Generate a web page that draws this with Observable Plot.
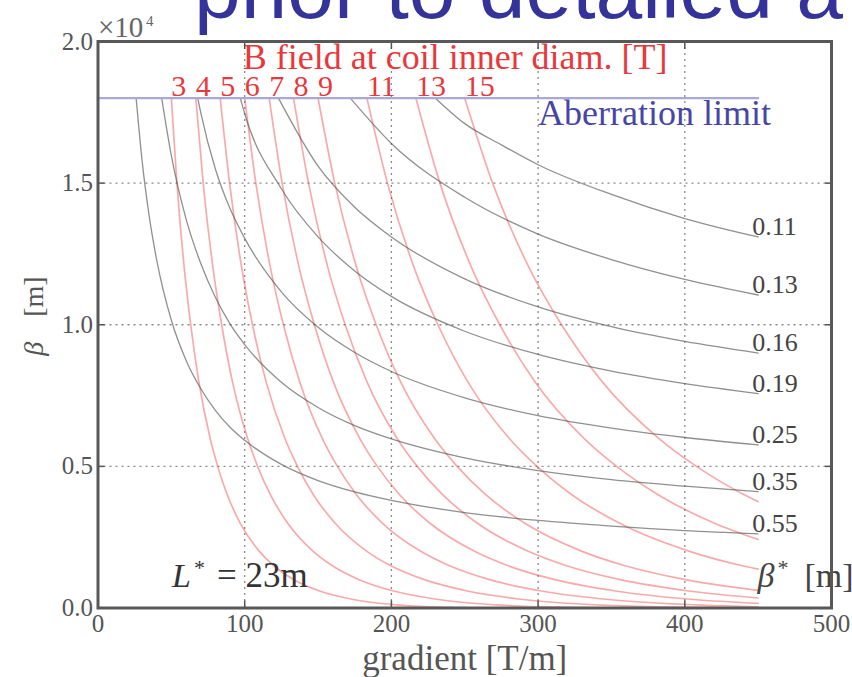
<!DOCTYPE html>
<html><head><meta charset="utf-8">
<script src="https://cdn.jsdelivr.net/npm/d3@7"></script>
<script src="https://cdn.jsdelivr.net/npm/@observablehq/plot@0.6"></script>
<style>
body{margin:0;background:#fff;}
#chart{position:relative;width:852px;height:677px;overflow:hidden;}
</style>
</head><body><div id="chart"></div>
<script>
// ---- data ----
const xTicks = [0, 100, 200, 300, 400, 500];
const yTicks = [0, 0.5, 1.0, 1.5, 2.0];           // ×10^4 m
const xGrid = [100, 200, 300, 400];
const yGrid = [0.5, 1.0, 1.5];
const aberrationLimit = 1.8;
const aberrationRange = [0, 450];

// beta* curves (gray): [gradient, beta (×10^4)]
const betaStarLabels = ["0.11", "0.13", "0.16", "0.19", "0.25", "0.35", "0.55"];
const gray011 = [[230,1.80],[250,1.71],[275,1.635],[300,1.565],[350,1.46],[400,1.375],[450,1.31]];
const gray013 = [[172,1.80],[200,1.64],[250,1.45],[300,1.32],[350,1.23],[400,1.16],[450,1.105]];
const gray016 = [[123,1.80],[150,1.56],[175,1.415],[200,1.31],[250,1.162],[300,1.063],[350,0.993],[400,0.941],[450,0.90]];
const gray019 = [[97,1.80],[100,1.745],[125,1.48],[150,1.31],[175,1.19],[200,1.10],[250,0.977],[300,0.895],[350,0.836],[400,0.792],[450,0.757]];
const gray025 = [[68,1.80],[70,1.75],[80,1.55],[90,1.41],[100,1.305],[125,1.116],[150,0.991],[175,0.902],[200,0.835],[250,0.742],[300,0.679],[350,0.635],[400,0.602],[450,0.576]];
const gray035 = [[43.4,1.80],[50,1.597],[60,1.374],[70,1.217],[80,1.097],[90,1.003],[100,0.930],[125,0.797],[150,0.708],[175,0.644],[200,0.597],[250,0.530],[300,0.485],[350,0.453],[400,0.430],[450,0.411]];
const gray055 = [[26,1.80],[30,1.582],[35,1.380],[40,1.229],[50,1.016],[60,0.875],[70,0.775],[80,0.698],[90,0.638],[100,0.592],[125,0.507],[150,0.450],[175,0.410],[200,0.380],[250,0.337],[300,0.309],[350,0.289],[400,0.273],[450,0.262]];
const grayCurves = [gray011, gray013, gray016, gray019, gray025, gray035, gray055];

// B-field curves (red): [gradient, beta (×10^4)]
const bFieldLabels = ["3", "4", "5", "6", "7", "8", "9", "11", "13", "15"];
const redB3  = [[50,1.8],[53.8,1.5],[58.8,1.2],[63.2,1.0],[68.7,0.8],[76.4,0.6],[81.6,0.5],[88.1,0.4],[96.9,0.3],[110,0.2],[119.6,0.15],[133.5,0.1],[151.1,0.06],[174,0.03],[206,0.01],[232.6,0.003],[275.2,0],[450,0]];
const redB4  = [[66.7,1.8],[71.7,1.5],[78.4,1.2],[84.3,1.0],[91.6,0.8],[101.9,0.6],[108.8,0.5],[117.5,0.4],[129.2,0.3],[146.7,0.2],[159.5,0.15],[178,0.1],[201.5,0.06],[232,0.03],[274.7,0.01],[310.1,0.003],[366.9,0],[450,0]];
const redB5  = [[83.3,1.8],[89.7,1.5],[98,1.2],[105.3,1.0],[114.5,0.8],[127.3,0.6],[136,0.5],[146.8,0.4],[161.5,0.3],[183.3,0.2],[199.3,0.15],[222.5,0.1],[251.8,0.06],[290,0.03],[343.3,0.01],[387.7,0.003],[450,0]];
const redB6  = [[100,1.8],[107.6,1.5],[117.6,1.2],[126.4,1.0],[137.4,0.8],[152.8,0.6],[163.2,0.5],[176.2,0.4],[193.8,0.3],[220,0.2],[239.2,0.15],[267,0.1],[302.2,0.06],[348,0.03],[412,0.01],[450,0.0044]];
const redB7  = [[116.7,1.8],[125.5,1.5],[137.2,1.2],[147.5,1.0],[160.3,0.8],[178.3,0.6],[190.4,0.5],[205.6,0.4],[226.1,0.3],[256.7,0.2],[279.1,0.15],[311.5,0.1],[352.6,0.06],[406,0.03],[450,0.0162]];
const redB8  = [[133.3,1.8],[143.5,1.5],[156.8,1.2],[168.5,1.0],[183.2,0.8],[203.7,0.6],[217.6,0.5],[234.9,0.4],[258.4,0.3],[293.3,0.2],[318.9,0.15],[356,0.1],[402.9,0.06],[450,0.0353]];
const redB9  = [[150,1.8],[161.4,1.5],[176.4,1.2],[189.6,1.0],[206.1,0.8],[229.2,0.6],[244.8,0.5],[264.3,0.4],[290.7,0.3],[330,0.2],[358.8,0.15],[400.5,0.1],[450,0.062]];
const redB11 = [[183.3,1.8],[197.3,1.5],[215.6,1.2],[231.7,1.0],[251.9,0.8],[280.1,0.6],[299.2,0.5],[323,0.4],[355.3,0.3],[403.3,0.2],[438.5,0.15],[450,0.137]];
const redB13 = [[216.7,1.8],[233.1,1.5],[254.8,1.2],[273.9,1.0],[297.7,0.8],[331.1,0.6],[353.6,0.5],[381.8,0.4],[419.9,0.3],[450,0.2416]];
const redB15 = [[250,1.8],[269,1.5],[294,1.2],[316,1.0],[343.5,0.8],[382,0.6],[408,0.5],[440.5,0.4],[450,0.376]];
const redCurves = [redB3, redB4, redB5, redB6, redB7, redB8, redB9, redB11, redB13, redB15];

// ---- tables for Plot ----
const grayRows = grayCurves.flatMap((c, i) => c.map(([g, b]) => ({g, b, s: betaStarLabels[i]})));
const redRows = redCurves.flatMap((c, i) => c.map(([g, b]) => ({g, b, s: bFieldLabels[i]})));
const grayEnds = grayCurves.map((c, i) => ({g: c[c.length - 1][0], b: c[c.length - 1][1], label: betaStarLabels[i]}));
const redStarts = redCurves.map((c, i) => ({g: c[0][0], b: c[0][1], label: bFieldLabels[i]}));
const aberrationRows = aberrationRange.map(g => ({g, b: aberrationLimit}));

const serif = "Liberation Serif, Times New Roman, serif";
const axisGray = "#555";
const redText = "#e8383c";
const noText = () => "";

const chart = Plot.plot({
  width: 852,
  height: 677,
  marginLeft: 97.5,
  marginRight: 21,
  marginTop: 41,
  marginBottom: 69.5,
  style: {fontFamily: serif, background: "#fff", overflow: "visible"},
  x: {domain: [0, 500]},
  y: {domain: [0, 2]},
  marks: [
    Plot.gridX(xGrid, {stroke: "#8a8a8a", strokeOpacity: 1, strokeWidth: 1.3, strokeDasharray: "2,4"}),
    Plot.gridY(yGrid, {stroke: "#8a8a8a", strokeOpacity: 1, strokeWidth: 1.3, strokeDasharray: "2,4"}),
    Plot.line(redRows, {x: "g", y: "b", z: "s", stroke: "#ee3535", strokeOpacity: 0.42, strokeWidth: 1.7, curve: "monotone-x"}),
    Plot.line(grayRows, {x: "g", y: "b", z: "s", stroke: "#555", strokeOpacity: 0.65, strokeWidth: 1.3, curve: "monotone-x"}),
    Plot.line(aberrationRows, {x: "g", y: "b", stroke: "#a9a9d9", strokeWidth: 2.2}),
    Plot.text(redStarts, {x: "g", y: "b", text: "label", textAnchor: "start", lineAnchor: "bottom", dy: -2, fontSize: 30, fill: redText}),
    Plot.text(["B field at coil inner diam. [T]"], {x: 100, y: aberrationLimit, text: d => d, textAnchor: "start", lineAnchor: "bottom", dy: -29, dx: -2, fontSize: 36, fill: redText}),
    Plot.text(["Aberration limit"], {x: 300, y: aberrationLimit, text: d => d, textAnchor: "start", lineAnchor: "bottom", dy: 27, fontSize: 36, fill: "#4646a8"}),
    Plot.text(grayEnds, {x: "g", y: "b", text: "label", textAnchor: "start", lineAnchor: "middle", dx: -6, dy: -10, fontSize: 26, fill: "#444"}),
    // L* = 23m
    Plot.text(["L"], {frameAnchor: "bottom-left", text: d => d, textAnchor: "start", lineAnchor: "bottom", dx: 74, dy: -21, fontSize: 34, fontStyle: "italic", fill: "#333"}),
    Plot.text(["*"], {frameAnchor: "bottom-left", text: d => d, textAnchor: "start", lineAnchor: "bottom", dx: 96, dy: -33, fontSize: 22, fill: "#333"}),
    Plot.text(["= 23m"], {frameAnchor: "bottom-left", text: d => d, textAnchor: "start", lineAnchor: "bottom", dx: 119, dy: -21, fontSize: 35, fill: "#333"}),
    // beta* [m]
    Plot.text(["β"], {frameAnchor: "bottom-right", text: d => d, textAnchor: "start", lineAnchor: "bottom", dx: -74, dy: -21, fontSize: 34, fontStyle: "italic", fill: "#444"}),
    Plot.text(["*"], {frameAnchor: "bottom-right", text: d => d, textAnchor: "start", lineAnchor: "bottom", dx: -54, dy: -33, fontSize: 22, fill: "#444"}),
    Plot.text(["[m]"], {frameAnchor: "bottom-right", text: d => d, textAnchor: "start", lineAnchor: "bottom", dx: -27, dy: -21, fontSize: 34, fill: "#444"}),
    // axes: labels
    Plot.axisX(xTicks, {anchor: "bottom", tickSize: 0, tickPadding: 6, fontSize: 25, fill: axisGray, label: null}),
    Plot.axisY(yTicks, {anchor: "left", tickSize: 0, tickPadding: 5, tickFormat: d => d.toFixed(1), fontSize: 25, fill: axisGray, label: null}),
    // axes: inward ticks on all four sides
    Plot.axisX(xTicks, {anchor: "bottom", tickSize: 7, dy: -7, tickFormat: noText, stroke: axisGray, strokeWidth: 1.5, label: null}),
    Plot.axisX(xTicks, {anchor: "top", tickSize: 7, dy: 7, tickFormat: noText, stroke: axisGray, strokeWidth: 1.5, label: null}),
    Plot.axisY(yTicks, {anchor: "left", tickSize: 7, dx: 7, tickFormat: noText, stroke: axisGray, strokeWidth: 1.5, label: null}),
    Plot.axisY(yTicks, {anchor: "right", tickSize: 7, dx: -7, tickFormat: noText, stroke: axisGray, strokeWidth: 1.5, label: null}),
    Plot.text(["×10"], {frameAnchor: "top-left", text: d => d, textAnchor: "start", lineAnchor: "bottom", dx: 0, dy: -5, fontSize: 29, fill: "#666"}),
    Plot.text(["4"], {frameAnchor: "top-left", text: d => d, textAnchor: "start", lineAnchor: "bottom", dx: 48, dy: -16, fontSize: 15, fill: "#666"}),
    Plot.text(["gradient [T/m]"], {frameAnchor: "bottom", text: d => d, lineAnchor: "bottom", dy: 62, fontSize: 35, fill: axisGray}),
    Plot.text(["β"], {frameAnchor: "left", text: d => d, rotate: -90, dx: -64, dy: 31, fontSize: 28, fontStyle: "italic", fill: axisGray}),
    Plot.text(["[m]"], {frameAnchor: "left", text: d => d, rotate: -90, dx: -64, dy: -8, fontSize: 28, fill: axisGray}),
    Plot.frame({stroke: "#585858", strokeWidth: 3}),
    // slide title behind the chart (partly cut off at the top)
    Plot.text(["prior to detailed a"], {frameAnchor: "top-left", text: d => d, textAnchor: "start", lineAnchor: "bottom", dx: 96, dy: -24, fontSize: 84, fontFamily: "Liberation Sans, Arial, sans-serif", fill: "#333399"})
  ]
});
document.getElementById("chart").appendChild(chart);
</script>
</body></html>
